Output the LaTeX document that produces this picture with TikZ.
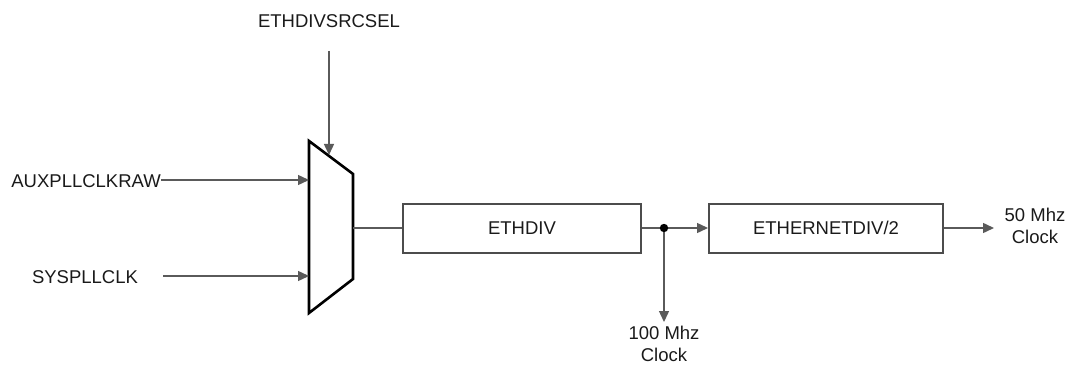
\documentclass[tikz,border=0pt]{standalone}
\usepackage{fontspec}
\setmainfont{Liberation Sans}
\usetikzlibrary{arrows.meta}
\definecolor{wire}{HTML}{5A5A5A}
\definecolor{txt}{HTML}{1A1A1A}
\tikzset{
  lbl/.style={text=txt, font=\fontsize{18.5}{22}\selectfont, inner sep=0pt, align=center},
  blk/.style={draw=wire!85!black, line width=2pt, minimum height=49pt, inner sep=0pt, text=txt, font=\fontsize{18.5}{22}\selectfont},
  wireln/.style={draw=wire, line width=1.4pt},
  arr/.style={wireln, -{Triangle[length=11pt,width=10pt]}},
  muxln/.style={draw=black, line width=2.6pt, line join=miter}
}
\begin{document}
\begin{tikzpicture}[x=1pt,y=-1pt]
\useasboundingbox (0,0) rectangle (1091,366);
% mux
\coordinate (mtl) at (309,141);
\coordinate (mtr) at (353,174);
\coordinate (mbr) at (353,279);
\coordinate (mbl) at (309,313);
\draw[muxln] (mtl) -- (mtr) -- (mbr) -- (mbl) -- cycle;
\coordinate (minA) at (309,180);
\coordinate (minB) at (309,276);
\coordinate (msel) at (329,155);
\coordinate (mout) at (353,228);
% labels
\node[lbl] (sel) at (329,21) {ETHDIVSRCSEL};
\node[lbl, anchor=east] (aux) at (161,181) {AUXPLLCLKRAW};
\node[lbl] (sys) at (85,277) {SYSPLLCLK};
\coordinate (sysend) at (163,276);
\coordinate (selstart) at (329,51);
% blocks
\node[blk, minimum width=238pt] (ethdiv) at (522,228) {ETHDIV};
\node[blk, minimum width=234pt] (ethnet) at (826,228) {ETHERNETDIV/2};
\node[lbl] (out50) at (1035,226) {50 Mhz\\Clock};
\node[lbl] (out100) at (664,344) {100 Mhz\\Clock};
\coordinate (j) at (664,228);
\coordinate (o50) at (994,228);
\coordinate (o100) at (664,322);
% wires
\draw[arr] (selstart) -- (msel);
\draw[arr] (aux.east |- minA) -- (minA);
\draw[arr] (sysend) -- (minB);
\draw[wireln] (mout) -- (ethdiv.west);
\draw[wireln] (ethdiv.east) -- (j);
\draw[arr] (j) -- (ethnet.west);
\draw[arr] (j) -- (o100);
\draw[arr] (ethnet.east) -- (o50);
\fill[black] (j) circle (4.2pt);
\end{tikzpicture}
\end{document}
